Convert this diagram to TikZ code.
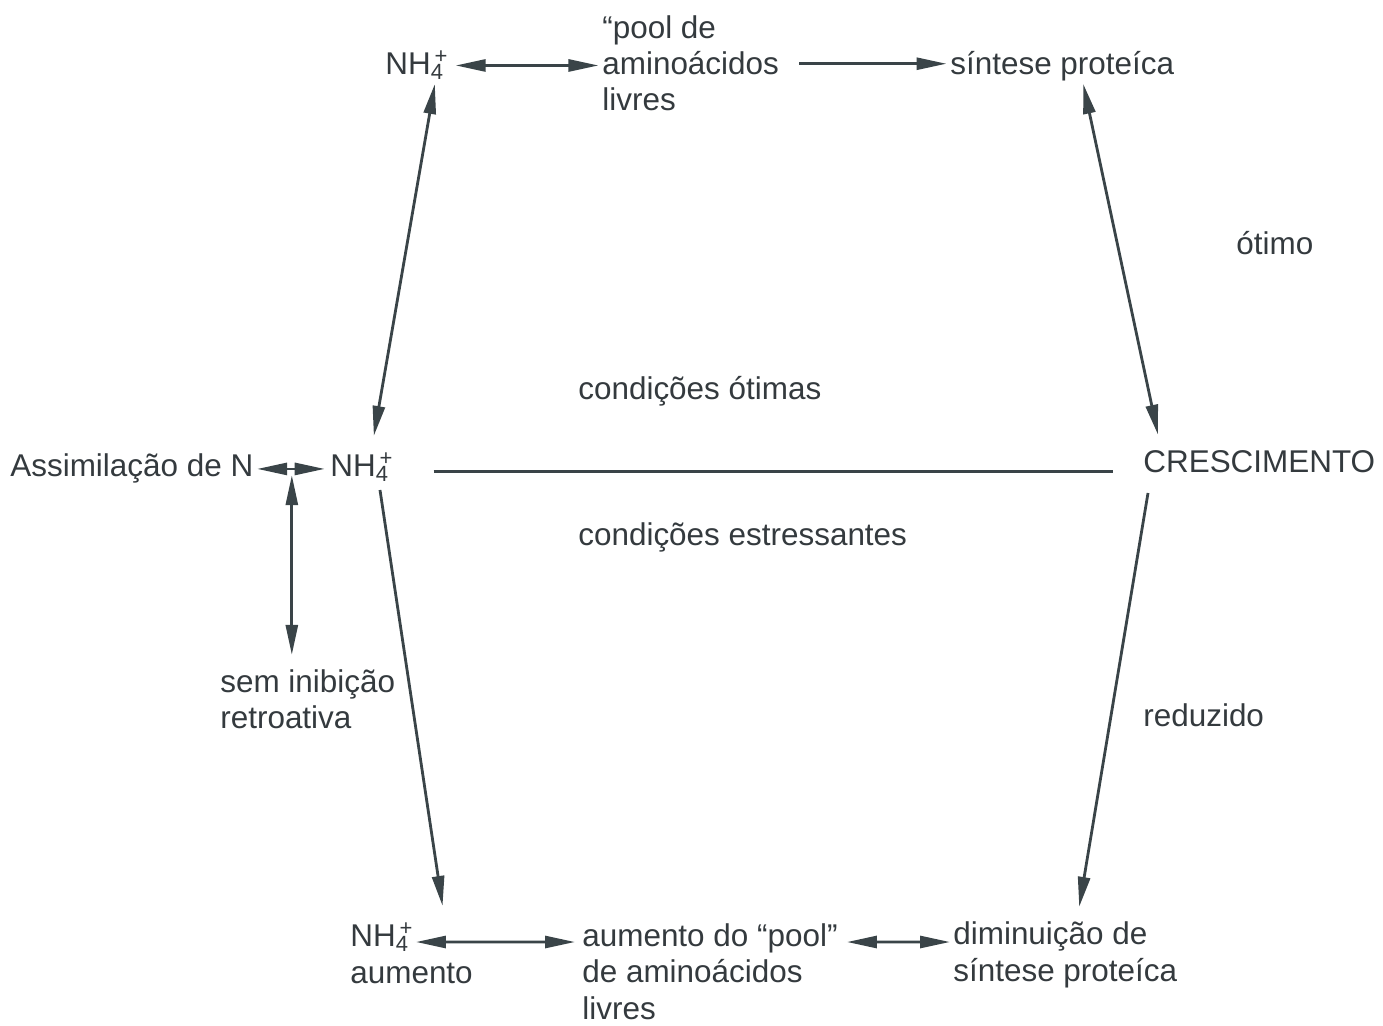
\documentclass[tikz,border=0pt]{standalone}
\usepackage{fontspec}
\setmainfont{Liberation Sans}
\usetikzlibrary{arrows.meta,calc}

\definecolor{ink}{RGB}{52,58,62}
\definecolor{stroke}{RGB}{58,68,72}
\newcommand{\nhq}{NH\rlap{\textsubscript{4}}\kern0.12em\textsuperscript{+}}

\tikzset{
  lbl/.style={anchor=base west, inner sep=0pt, text=ink, align=left,
    font=\fontsize{17.9}{20.5}\selectfont},
  dbl/.style={draw=stroke, line width=1.6pt,
    {Triangle[length=0.6cm,width=0.24cm]}-{Triangle[length=0.6cm,width=0.24cm]}},
  sgl/.style={draw=stroke, line width=1.6pt, -{Triangle[length=0.6cm,width=0.24cm]}},
}

\begin{document}
\begin{tikzpicture}[x=0.02cm, y=-0.02cm]
\useasboundingbox (0,0) rectangle (1383,1026);

% labels (multi-line ones sit on their last line)
\node[lbl] (nhTop) at (385,75) {\nhq};
\node[lbl] (pool) at (602,111) {``pool de\\aminoácidos\\livres};
\node[lbl] (sintese) at (950,75) {síntese proteíca};
\node[lbl] (otimo) at (1236,255) {ótimo};
\node[lbl] (condOt) at (578,400) {condições ótimas};
\node[lbl] (assim) at (10,477) {Assimilação de N};
\node[lbl] (nhMid) at (330,477) {\nhq};
\node[lbl] (cresc) at (1143,473) {CRESCIMENTO};
\node[lbl] (condEst) at (578,546) {condições estressantes};
\node[lbl] (semInib) at (220,729) {sem inibição\\retroativa};
\node[lbl] (reduz) at (1143,727) {reduzido};
\node[lbl] (nhBot) at (350,983) {\nhq\\aumento};
\node[lbl] (aumPool) at (582,1019) {aumento do ``pool''\\de aminoácidos\\livres};
\node[lbl] (dimin) at (953,981) {diminuição de\\síntese proteíca};

\coordinate (mid) at ($(assim.east)!0.5!(nhMid.west)$);

% connectors
\draw[dbl, shorten <=4pt, shorten >=2pt] (nhTop.east) -- (nhTop.east -| pool.west);
\draw[sgl, shorten <=0.4cm, shorten >=2pt] (pool.east) -- (pool.east -| sintese.west);
\draw[dbl] ([xshift=0.36cm,yshift=-0.08cm]nhTop.south) -- ([xshift=0.24cm,yshift=0.34cm]nhMid.north);
\draw[dbl] ([xshift=0.42cm,yshift=-0.04cm]sintese.south) -- ([xshift=0.3cm,yshift=0.32cm]cresc.north west);
\draw[dbl, shorten <=2pt, shorten >=3pt] (assim.east) -- (assim.east -| nhMid.west);
\draw[dbl, shorten <=0.14cm, shorten >=0.3cm] (mid) -- (mid |- semInib.north);
\draw[sgl] ([xshift=1.0cm,yshift=-0.26cm]nhMid.base west) -- ([xshift=0.62cm,yshift=0.34cm]nhBot.north);
\draw[sgl] ([xshift=0.1cm,yshift=-0.4cm]cresc.base west) -- ([xshift=0.28cm,yshift=0.3cm]dimin.north);
\draw[dbl] ([xshift=1.32cm,yshift=0.82cm]nhBot.base west) -- ([xshift=-0.14cm,yshift=1.54cm]aumPool.base west);
\draw[dbl] ([xshift=5.3cm,yshift=1.54cm]aumPool.base west) -- ([xshift=-0.06cm,yshift=0.78cm]dimin.base west);
\draw[draw=stroke, line width=1.6pt, shorten <=0.8cm, shorten >=0.6cm]
  ([yshift=-0.08cm]nhMid.east) -- ([yshift=-0.08cm]nhMid.east -| cresc.west);

\end{tikzpicture}
\end{document}
